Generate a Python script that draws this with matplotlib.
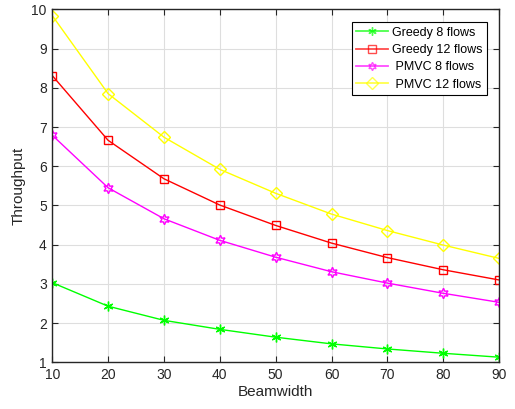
import numpy as np
import matplotlib
matplotlib.use('Agg')
import matplotlib.pyplot as plt

plt.rcParams['font.family'] = ['Liberation Sans', 'DejaVu Sans']

beamwidth = [10, 20, 30, 40, 50, 60, 70, 80, 90]
greedy_8 = [3.03, 2.43, 2.07, 1.84, 1.64, 1.47, 1.34, 1.23, 1.13]
greedy_12 = [8.31, 6.66, 5.68, 5.01, 4.49, 4.04, 3.67, 3.36, 3.10]
pmvc_8 = [6.79, 5.45, 4.66, 4.11, 3.68, 3.31, 3.02, 2.76, 2.53]
pmvc_12 = [9.84, 7.85, 6.74, 5.92, 5.31, 4.78, 4.36, 3.99, 3.65]

x_ticks = [10, 20, 30, 40, 50, 60, 70, 80, 90]
y_ticks = [1, 2, 3, 4, 5, 6, 7, 8, 9, 10]

fig = plt.figure(figsize=(5.15, 4.09), dpi=100)
ax = fig.add_axes([0.1016, 0.1142, 0.8674, 0.8628])

asterisk = (6, 2, 0)
hexagram = (6, 1, 0)
ax.plot(beamwidth, greedy_8, color=(0, 1, 0), marker=asterisk, markersize=7,
        linewidth=1, label='Greedy 8 flows')
ax.plot(beamwidth, greedy_12, color=(1, 0, 0), marker='s', markersize=6,
        fillstyle='none', linewidth=1, label='Greedy 12 flows')
ax.plot(beamwidth, pmvc_8, color=(1, 0, 1), marker=hexagram, markersize=7.5,
        fillstyle='none', linewidth=1, label=' PMVC 8 flows')
ax.plot(beamwidth, pmvc_12, color=(1, 1, 0), marker='D', markersize=6,
        fillstyle='none', linewidth=1, label=' PMVC 12 flows')

ax.set_xlim(10, 90)
ax.set_ylim(1, 10)
ax.set_xticks(x_ticks)
ax.set_yticks(y_ticks)
ax.grid(True, color=(0.87, 0.87, 0.87), linewidth=0.8)
ax.set_axisbelow(True)

axis_color = (0.15, 0.15, 0.15)
for side in ax.spines.values():
    side.set_color(axis_color)
    side.set_linewidth(1)
ax.tick_params(direction='in', top=True, right=True, length=4,
               colors=axis_color, labelsize=10, pad=4)

ax.set_xlabel('Beamwidth', fontsize=11, color=axis_color, labelpad=2)
ax.set_ylabel('Throughput', fontsize=11, color=axis_color, labelpad=4)

leg = ax.legend(loc='upper right', bbox_to_anchor=(0.973, 0.963), fontsize=9,
                fancybox=False, framealpha=1, edgecolor='black',
                handlelength=2.5, borderpad=0.35, labelspacing=0.42,
                handletextpad=0.35, borderaxespad=0)
leg.get_frame().set_linewidth(0.8)
for h in leg.legend_handles:
    h.set_markersize(6)
    h.set_linewidth(1.3)
    h.set_alpha(0.7)

fig.savefig('out.png', dpi=100)
